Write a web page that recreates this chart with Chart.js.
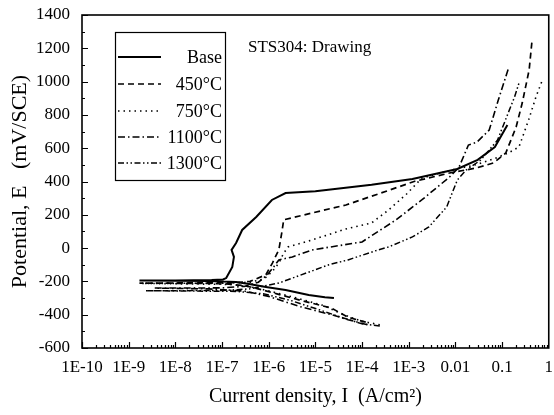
<!DOCTYPE html>
<html>
<head>
<meta charset="utf-8">
<script src="https://cdn.jsdelivr.net/npm/chart.js@4.4.0/dist/chart.umd.min.js"></script>
<style>
html, body { margin: 0; padding: 0; background: #fff; }
#wrap { width: 554px; height: 415px; }
</style>
</head>
<body>
<div id="wrap"><canvas id="polChart" width="554" height="415"></canvas></div>
<script>
// tick labels
const xTickValues = [1e-10, 1e-9, 1e-8, 1e-7, 1e-6, 1e-5, 1e-4, 1e-3, 1e-2, 1e-1, 1];
const xTickLabels = ["1E-10", "1E-9", "1E-8", "1E-7", "1E-6", "1E-5", "1E-4", "1E-3", "0.01", "0.1", "1"];
const yTickValues = [-600, -400, -200, 0, 200, 400, 600, 800, 1000, 1200, 1400];

const seriesLabels = ["Base", "450°C", "750°C", "1100°C", "1300°C"];

// current density (A/cm2) and potential (mV/SCE), cathodic tip -> Ecorr -> anodic
const baseI = [2.5e-5, 1.6e-5, 7.2e-6, 2.3e-6, 8.7e-7, 3.8e-7, 2e-7, 5e-8, 1.7e-9, 1e-8, 6e-8, 1.05e-7, 1.23e-7, 1.66e-7, 1.8e-7, 1.6e-7, 2.0e-7, 2.7e-7, 5.4e-7, 1.17e-6, 2.3e-6, 1e-5, 1.6e-4, 1.2e-3, 1.1e-2, 3e-2, 7e-2, 0.13];
const baseE = [-300, -295, -282, -252, -233, -216, -203, -197, -195, -194, -192, -188, -180, -113, -53, -11, 31, 109, 187, 289, 331, 342, 380, 415, 475, 530, 607, 740];

const t450I = [1.2e-4, 5e-5, 2.2e-5, 5e-6, 1.5e-6, 6e-7, 3e-7, 1e-7, 1.7e-9, 5e-8, 2e-7, 4e-7, 8.7e-7, 1.2e-6, 1.65e-6, 1.9e-6, 2.1e-6, 8.5e-6, 4.5e-5, 2.5e-4, 1.3e-3, 7.5e-3, 2.8e-2, 6.5e-2, 0.12, 0.2, 0.27, 0.38, 0.44];
const t450E = [-445, -415, -360, -315, -275, -245, -225, -213, -210, -209, -207, -200, -160, -90, -10, 90, 170, 211, 259, 330, 400, 451, 481, 511, 571, 727, 871, 1070, 1250];

const t750I = [2.4e-4, 1e-4, 4e-5, 1.5e-5, 4e-6, 1.2e-6, 4e-7, 1.5e-7, 1.9e-9, 1e-7, 4e-7, 8e-7, 1.2e-6, 1.65e-6, 2.1e-6, 2.6e-6, 8.5e-6, 4.5e-5, 1.6e-4, 3.7e-4, 9e-4, 1.9e-3, 8.5e-3, 2.7e-2, 6.5e-2, 0.135, 0.23, 0.37, 0.53, 0.72];
const t750E = [-460, -440, -400, -345, -300, -262, -232, -218, -212, -211, -205, -185, -140, -90, -30, 7, 49, 115, 151, 229, 325, 420, 470, 500, 535, 571, 607, 769, 907, 1005];

const t1100I = [1.3e-4, 5e-5, 2.2e-5, 4.5e-6, 1e-6, 3e-7, 5e-8, 3.6e-9, 1e-7, 3e-7, 6e-7, 9.3e-7, 1.3e-6, 1.65e-6, 3.2e-6, 8.5e-6, 1e-4, 5.3e-4, 1.9e-3, 7.5e-3, 1.2e-2, 1.9e-2, 2.9e-2, 5.3e-2, 8.3e-2, 0.14];
const t1100E = [-460, -430, -400, -350, -290, -258, -245, -240, -239, -230, -205, -161, -110, -71, -53, -11, 37, 169, 289, 427, 487, 619, 637, 709, 889, 1088];

const t1300I = [2.4e-4, 1e-4, 4e-5, 1.2e-5, 3e-6, 8e-7, 2e-7, 2.3e-9, 1e-7, 3.8e-7, 1.65e-6, 1.95e-5, 5e-5, 2.2e-4, 3.7e-4, 1.2e-3, 2.7e-3, 6.5e-3, 1.1e-2, 1.7e-2, 3.5e-2, 8e-2, 0.135, 0.185, 0.23];
const t1300E = [-468, -455, -420, -370, -315, -275, -260, -256, -255, -245, -210, -100, -71, -11, 7, 67, 127, 247, 409, 469, 529, 649, 811, 907, 991];

const dashes = [[], [6, 4], [1.5, 4], [7, 3, 1.5, 3], [6, 2.5, 1.5, 2.5, 1.5, 2.5]];

function toPoints(xs, ys) {
    return xs.map((x, i) => ({ x: x, y: ys[i] }));
}

const serif = "'Liberation Serif', 'Times New Roman', serif";

const frameAndLegend = {
    id: "frameAndLegend",
    afterDraw(chart) {
        const ctx = chart.ctx;
        const area = chart.chartArea;
        const xs = chart.scales.x;
        const ys = chart.scales.y;
        ctx.save();
        ctx.strokeStyle = "#000";
        ctx.lineWidth = 1.6;
        ctx.setLineDash([]);
        ctx.strokeRect(area.left, area.top, area.right - area.left, area.bottom - area.top);

        // inward ticks on bottom axis
        ctx.lineWidth = 1.2;
        ctx.beginPath();
        for (let d = -10; d < 0; d++) {
            for (let m = 1; m <= 9; m++) {
                const v = m * Math.pow(10, d);
                const px = Math.round(xs.getPixelForValue(v)) + 0.5;
                const len = m === 1 ? 6 : 3;
                ctx.moveTo(px, area.bottom);
                ctx.lineTo(px, area.bottom - len);
            }
        }
        // inward ticks on left axis
        for (let v = -600; v <= 1400; v += 100) {
            const py = Math.round(ys.getPixelForValue(v)) + 0.5;
            const len = v % 200 === 0 ? 6 : 3;
            ctx.moveTo(area.left, py);
            ctx.lineTo(area.left + len, py);
        }
        ctx.stroke();

        // legend box
        const bx = 115, by = 32, bw = 110, bh = 148;
        ctx.lineWidth = 1.2;
        ctx.strokeRect(bx + 0.5, by + 0.5, bw, bh);
        const rowY = [57, 84, 111, 137, 163];
        ctx.font = "18px " + serif;
        ctx.fillStyle = "#000";
        ctx.textAlign = "right";
        ctx.textBaseline = "middle";
        chart.data.datasets.forEach((ds, i) => {
            ctx.beginPath();
            ctx.lineWidth = ds.borderWidth;
            ctx.setLineDash(ds.borderDash);
            ctx.moveTo(bx + 3, rowY[i]);
            ctx.lineTo(bx + 46, rowY[i]);
            ctx.stroke();
            ctx.setLineDash([]);
            ctx.fillText(ds.label, bx + bw - 3, rowY[i] + 1);
        });

        ctx.textAlign = "left";
        ctx.font = "17px " + serif;
        ctx.fillText("STS304: Drawing", 248, 48);
        ctx.restore();
    }
};

const ctx = document.getElementById("polChart");

new Chart(ctx, {
    type: "scatter",
    data: {
        datasets: [
            { label: seriesLabels[0], data: toPoints(baseI, baseE), borderWidth: 2, borderDash: dashes[0] },
            { label: seriesLabels[1], data: toPoints(t450I, t450E), borderWidth: 1.7, borderDash: dashes[1] },
            { label: seriesLabels[2], data: toPoints(t750I, t750E), borderWidth: 1.6, borderDash: dashes[2] },
            { label: seriesLabels[3], data: toPoints(t1100I, t1100E), borderWidth: 1.6, borderDash: dashes[3] },
            { label: seriesLabels[4], data: toPoints(t1300I, t1300E), borderWidth: 1.5, borderDash: dashes[4] }
        ].map(ds => Object.assign(ds, {
            showLine: true,
            borderColor: "#000",
            backgroundColor: "#000",
            pointRadius: 0,
            tension: 0,
            fill: false
        }))
    },
    options: {
        responsive: false,
        animation: false,
        devicePixelRatio: 1,
        layout: {
            padding: { top: 15, right: 3, left: 0, bottom: 0 }
        },
        plugins: {
            legend: { display: false },
            tooltip: { enabled: false }
        },
        scales: {
            x: {
                type: "logarithmic",
                min: 1e-10,
                max: 1,
                grid: { display: false },
                border: { display: false },
                afterBuildTicks: (scale) => {
                    scale.ticks = xTickValues.map(v => ({ value: v }));
                },
                afterFit: (scale) => {
                    scale.height = 67;
                },
                ticks: {
                    autoSkip: false,
                    maxRotation: 0,
                    padding: 1,
                    color: "#000",
                    font: { family: serif, size: 17 },
                    callback: (value, index) => xTickLabels[index]
                },
                title: {
                    display: true,
                    text: "Current density, I  (A/cm²)",
                    color: "#000",
                    font: { family: serif, size: 20 },
                    padding: { top: 0, bottom: 6 }
                }
            },
            y: {
                type: "linear",
                min: -600,
                max: 1400,
                grid: { display: false },
                border: { display: false },
                afterBuildTicks: (scale) => {
                    scale.ticks = yTickValues.map(v => ({ value: v }));
                },
                afterFit: (scale) => {
                    scale.width = 82;
                },
                ticks: {
                    padding: 4,
                    color: "#000",
                    font: { family: serif, size: 17 },
                    callback: (value) => String(value)
                },
                title: {
                    display: true,
                    text: "Potential, E   (mV/SCE)",
                    color: "#000",
                    font: { family: serif, size: 22 },
                    padding: { top: 7, bottom: 0 }
                }
            }
        }
    },
    plugins: [frameAndLegend]
});
</script>
</body>
</html>
